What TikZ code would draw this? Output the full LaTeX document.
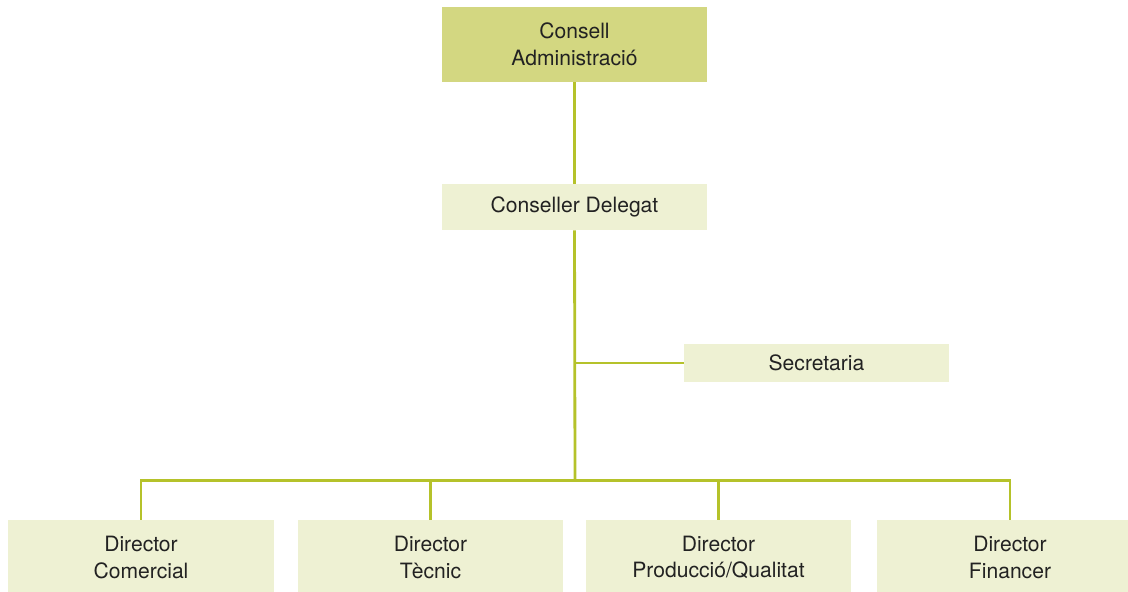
\documentclass[tikz,border=0pt]{standalone}
\usepackage{fontspec}
\setmainfont{TeX Gyre Heros}
\usetikzlibrary{positioning}
\definecolor{oliveband}{HTML}{D3D781}
\definecolor{paleband}{HTML}{EEF1D3}
\definecolor{linkgreen}{HTML}{B5C22A}
\definecolor{textdark}{HTML}{222222}

\begin{document}
\begin{tikzpicture}[x=0.025cm,y=-0.025cm,
  head/.style={rectangle,fill=oliveband,minimum width=6.625cm,
             minimum height=1.875cm,align=center,inner sep=0pt,
             font=\fontsize{15}{19}\selectfont,text=textdark},
  unit/.style={rectangle,fill=paleband,minimum width=6.625cm,
             align=center,inner sep=0pt,
             font=\fontsize{15}{19}\selectfont,text=textdark},
  link/.style={-,line width=2pt,linkgreen}
]
\useasboundingbox (0,0) rectangle (1128,591);

% ---- TOP ----
\node[head] (admin) at (574.5,44.5) {Consell\\Administració};
\node[unit,minimum height=1.15cm] (deleg) at (574.5,207) {Conseller Delegat};
\node[unit,minimum height=0.95cm] (secr) at (816.5,363) {Secretaria};

% ---- DIRECTORS ----
\node[unit,minimum height=1.875cm] (dircom)  at (141,557.5)   {Director\\Comercial};
\node[unit,minimum height=1.875cm] (dirtec)  at (430.5,557.5) {Director\\Tècnic};
\node[unit,minimum height=1.875cm] (dirprod) at (718.5,557.5) {Director\\Producció/Qualitat};
\node[unit,minimum height=1.875cm] (dirfin)  at (1010,557.5)  {Director\\Financer};

% ---- LINKS ----
\coordinate (bar) at (575,480.5);
\draw[link] (admin.south) -- (deleg.north);
\draw[link] (deleg.south) -- (bar);
\draw[link] (deleg.south |- secr.west) -- (secr.west);
\draw[link] (dircom.north) |- (bar) -| (dirfin.north);
\foreach \d in {dirtec,dirprod}
  \draw[link] (\d.north) -- (\d.north |- bar);

\end{tikzpicture}
\end{document}
